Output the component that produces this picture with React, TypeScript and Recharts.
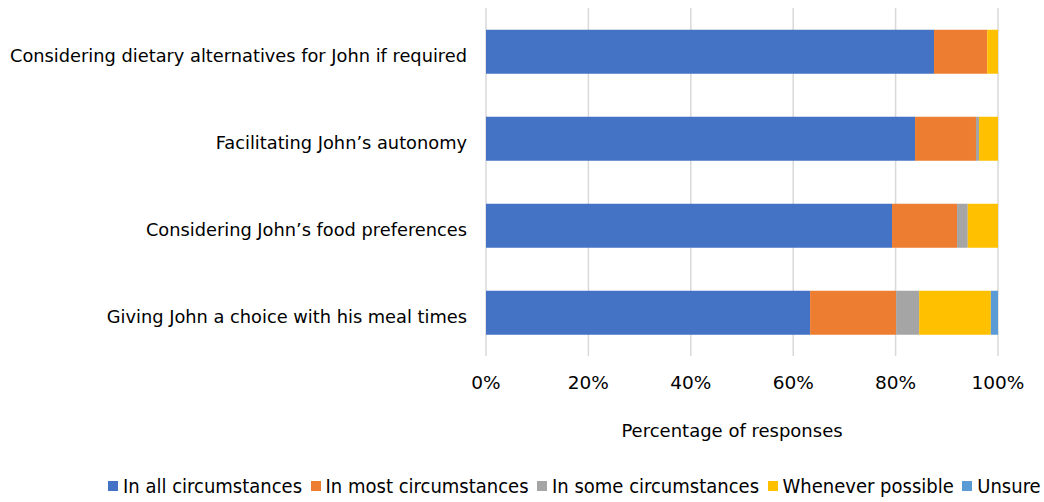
import React from 'react';
import { BarChart, Bar, XAxis, YAxis, CartesianGrid } from 'recharts';

const categories = [
  'Considering dietary alternatives for John if required',
  'Facilitating John\u2019s autonomy',
  'Considering John\u2019s food preferences',
  'Giving John a choice with his meal times',
];

const allCircumstances = [87.5, 83.8, 79.3, 63.3];
const mostCircumstances = [10.4, 11.9, 12.7, 16.8];
const someCircumstances = [0, 0.6, 2.1, 4.5];
const wheneverPossible = [2.1, 3.7, 5.9, 14.0];
const unsure = [0, 0, 0, 1.4];

const xTicks = [0, 20, 40, 60, 80, 100];

const SERIES = [
  { key: 'all', name: 'In all circumstances', color: '#4472C4' },
  { key: 'most', name: 'In most circumstances', color: '#ED7D31' },
  { key: 'some', name: 'In some circumstances', color: '#A5A5A5' },
  { key: 'whenever', name: 'Whenever possible', color: '#FFC000' },
  { key: 'unsure', name: 'Unsure', color: '#5B9BD5' },
];

const data = categories.map((label, i) => ({
  label,
  all: allCircumstances[i],
  most: mostCircumstances[i],
  some: someCircumstances[i],
  whenever: wheneverPossible[i],
  unsure: unsure[i],
}));

const FONT = '"DejaVu Sans", sans-serif';

const renderLegend = () => (
  <div style={{ display: 'flex', whiteSpace: 'nowrap', fontFamily: '"DejaVu Sans Condensed", "DejaVu Sans", sans-serif', fontSize: 20, color: '#000' }}>
    {SERIES.map((s) => (
      <span key={s.key} style={{ display: 'flex', flexShrink: 0, alignItems: 'center', marginRight: 8.5 }}>
        <span style={{ width: 10, height: 10, background: s.color, display: 'inline-block', marginRight: 5 }} />
        {s.name}
      </span>
    ))}
  </div>
);

export default function App() {
  return (
    <div style={{ position: 'absolute', left: 0, top: 0, width: 1044, height: 502, background: '#fff', overflow: 'hidden' }}>
      <BarChart
        width={1044}
        height={502}
        data={data}
        layout="vertical"
        margin={{ top: 8, right: 46, left: 0, bottom: 0 }}
        barCategoryGap="25%"
      >
        <CartesianGrid horizontal={false} stroke="#d9d9d9" strokeWidth={1.5} />
        <XAxis
          type="number"
          domain={[0, 100]}
          ticks={xTicks}
          tickFormatter={(v) => `${v}%`}
          axisLine={false}
          tickLine={false}
          tickMargin={14}
          height={146}
          tick={{ fill: '#000', fontSize: 18.5, fontFamily: FONT }}
          label={{ value: 'Percentage of responses', position: 'insideTop', offset: 68, dx: -10, fill: '#000', fontSize: 18, fontFamily: FONT }}
        />
        <YAxis
          type="category"
          dataKey="label"
          width={486}
          axisLine={false}
          tickLine={false}
          tickMargin={13}
          tick={{ fill: '#000', fontSize: 17.8, fontFamily: FONT, dy: 4 }}
        />
        {SERIES.map((s) => (
          <Bar key={s.key} dataKey={s.key} name={s.name} stackId="a" fill={s.color} isAnimationActive={false} />
        ))}
      </BarChart>
      <div style={{ position: 'absolute', left: 108, top: 474, width: 936 }}>{renderLegend()}</div>
    </div>
  );
}
